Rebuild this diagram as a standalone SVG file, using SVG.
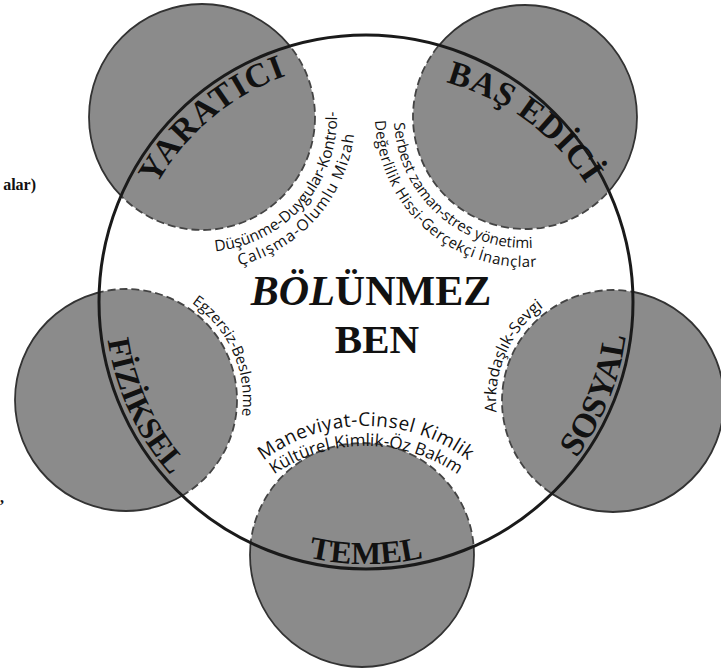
<svg xmlns="http://www.w3.org/2000/svg" width="721" height="669" viewBox="0 0 721 669">
<style>
.fill{fill:#8b8b8b;stroke:none}
.solid{fill:none;stroke:#333;stroke-width:1.8}
.dash{fill:none;stroke:#444;stroke-width:1.8;stroke-dasharray:8 4}
.big{fill:none;stroke:#1a1a1a;stroke-width:3}
.lbl{font-family:"Liberation Serif",serif;font-weight:bold;fill:#111}
.item{font-family:"Open Sans","DejaVu Sans",sans-serif;fill:#111}
</style>
<defs>
<clipPath id="inBig"><circle cx="366" cy="302" r="267"/></clipPath>
<clipPath id="outBig"><path clip-rule="evenodd" d="M-10,-10H740V700H-10Z M99,302A267,267 0 1 0 633,302A267,267 0 1 0 99,302Z"/></clipPath>
<path id="pY" d="M126,302 A240,240 0 0 1 407.68,65.65"/>
<path id="pB" d="M323.57,81.14 A243.6,243.6 0 0 1 625.51,300.51"/>
<path id="pS" d="M446.96,551.18 A262,262 0 0 0 597.33,179.0"/>
<path id="pF" d="M129.45,191.70 A261,261 0 0 0 298.45,554.11"/>
<path id="pT" d="M165.30,470.41 A262,262 0 0 0 566.70,470.41"/>
<path id="pY1" d="M122.65,226.22 A135,135 0 0 0 299.11,23.22"/>
<path id="pY2" d="M112.07,240.78 A153,153 0 0 0 312.06,10.72"/>
<path id="pB1" d="M420.38,38.16 A131,131 0 0 0 614.34,212.81"/>
<path id="pB2" d="M405.20,26.73 A150,150 0 0 0 627.30,226.70"/>
<path id="pF1" d="M117.84,283.29 A117,117 0 0 1 207.28,484.16"/>
<path id="pS1" d="M531.72,485.16 A117,117 0 0 1 621.16,284.29"/>
<path id="pT1" d="M219.64,510.5 A169,169 0 0 1 512.36,510.5"/>
<path id="pT2" d="M225.70,527 A162,162 0 0 1 506.30,527"/>
</defs>
<rect width="721" height="669" fill="#fff"/>

<g id="node-yaratici">
<circle class="fill" cx="202" cy="117" r="113"/>
<circle class="solid" cx="202" cy="117" r="113" clip-path="url(#outBig)"/>
<circle class="dash" cx="202" cy="117" r="113" clip-path="url(#inBig)"/>
</g>
<g id="node-basedici">
<circle class="fill" cx="525" cy="117" r="112"/>
<circle class="solid" cx="525" cy="117" r="112" clip-path="url(#outBig)"/>
<circle class="dash" cx="525" cy="117" r="112" clip-path="url(#inBig)"/>
</g>
<g id="node-sosyal">
<circle class="fill" cx="613" cy="401" r="111"/>
<circle class="solid" cx="613" cy="401" r="111" clip-path="url(#outBig)"/>
<circle class="dash" cx="613" cy="401" r="111" clip-path="url(#inBig)"/>
</g>
<g id="node-fiziksel">
<circle class="fill" cx="126" cy="400" r="111"/>
<circle class="solid" cx="126" cy="400" r="111" clip-path="url(#outBig)"/>
<circle class="dash" cx="126" cy="400" r="111" clip-path="url(#inBig)"/>
</g>
<g id="node-temel">
<circle class="fill" cx="362" cy="555" r="112"/>
<circle class="solid" cx="362" cy="555" r="112" clip-path="url(#outBig)"/>
<circle class="dash" cx="362" cy="555" r="112" clip-path="url(#inBig)"/>
</g>

<g id="node-ben">
<circle class="big" cx="366" cy="302" r="267"/>
<text class="lbl" x="371" y="305" text-anchor="middle" font-size="42"><tspan font-style="italic">BÖL</tspan>ÜNMEZ</text>
<text class="lbl" x="377" y="353" text-anchor="middle" font-size="41">BEN</text>
</g>

<g id="labels">
<text class="lbl" font-size="34" letter-spacing="1"><textPath href="#pY" startOffset="50%" text-anchor="middle">YARATICI</textPath></text>
<text class="lbl" font-size="34" letter-spacing="0.5"><textPath href="#pB" startOffset="50%" text-anchor="middle">BAŞ EDİCİ</textPath></text>
<text class="lbl" font-size="34"><textPath href="#pS" startOffset="50%" text-anchor="middle">SOSYAL</textPath></text>
<text class="lbl" font-size="32"><textPath href="#pF" startOffset="50%" text-anchor="middle">FİZİKSEL</textPath></text>
<text class="lbl" font-size="32"><textPath href="#pT" startOffset="50%" text-anchor="middle">TEMEL</textPath></text>

<text class="item" style="font-size:15.5px"><textPath href="#pY1" startOffset="50%" text-anchor="middle">Düşünme-Duygular-Kontrol-</textPath></text>
<text class="item" style="font-size:15.5px" letter-spacing="1.2"><textPath href="#pY2" startOffset="50%" text-anchor="middle">Çalışma-Olumlu Mizah</textPath></text>
<text class="item" style="font-size:15px"><textPath href="#pB1" startOffset="50%" text-anchor="middle">Serbest zaman-stres yönetimi</textPath></text>
<text class="item" style="font-size:15px" letter-spacing="0.5"><textPath href="#pB2" startOffset="50%" text-anchor="middle">Değerlilik Hissi-Gerçekçi İnançlar</textPath></text>
<text class="item" style="font-size:15px"><textPath href="#pF1" startOffset="50%" text-anchor="middle">Egzersiz-Beslenme</textPath></text>
<text class="item" style="font-size:16px"><textPath href="#pS1" startOffset="50%" text-anchor="middle">Arkadaşlık-Sevgi</textPath></text>
<text class="item" style="font-size:19px" letter-spacing="0.5"><textPath href="#pT1" startOffset="50%" text-anchor="middle">Maneviyat-Cinsel Kimlik</textPath></text>
<text class="item" style="font-size:17px"><textPath href="#pT2" startOffset="50%" text-anchor="middle">Kültürel Kimlik-Öz Bakım</textPath></text>
</g>

<g id="fragments">
<text class="lbl" x="36" y="190" text-anchor="end" font-size="16">alar)</text>
<text class="lbl" x="0" y="503" font-size="16">,</text>
</g>
</svg>
